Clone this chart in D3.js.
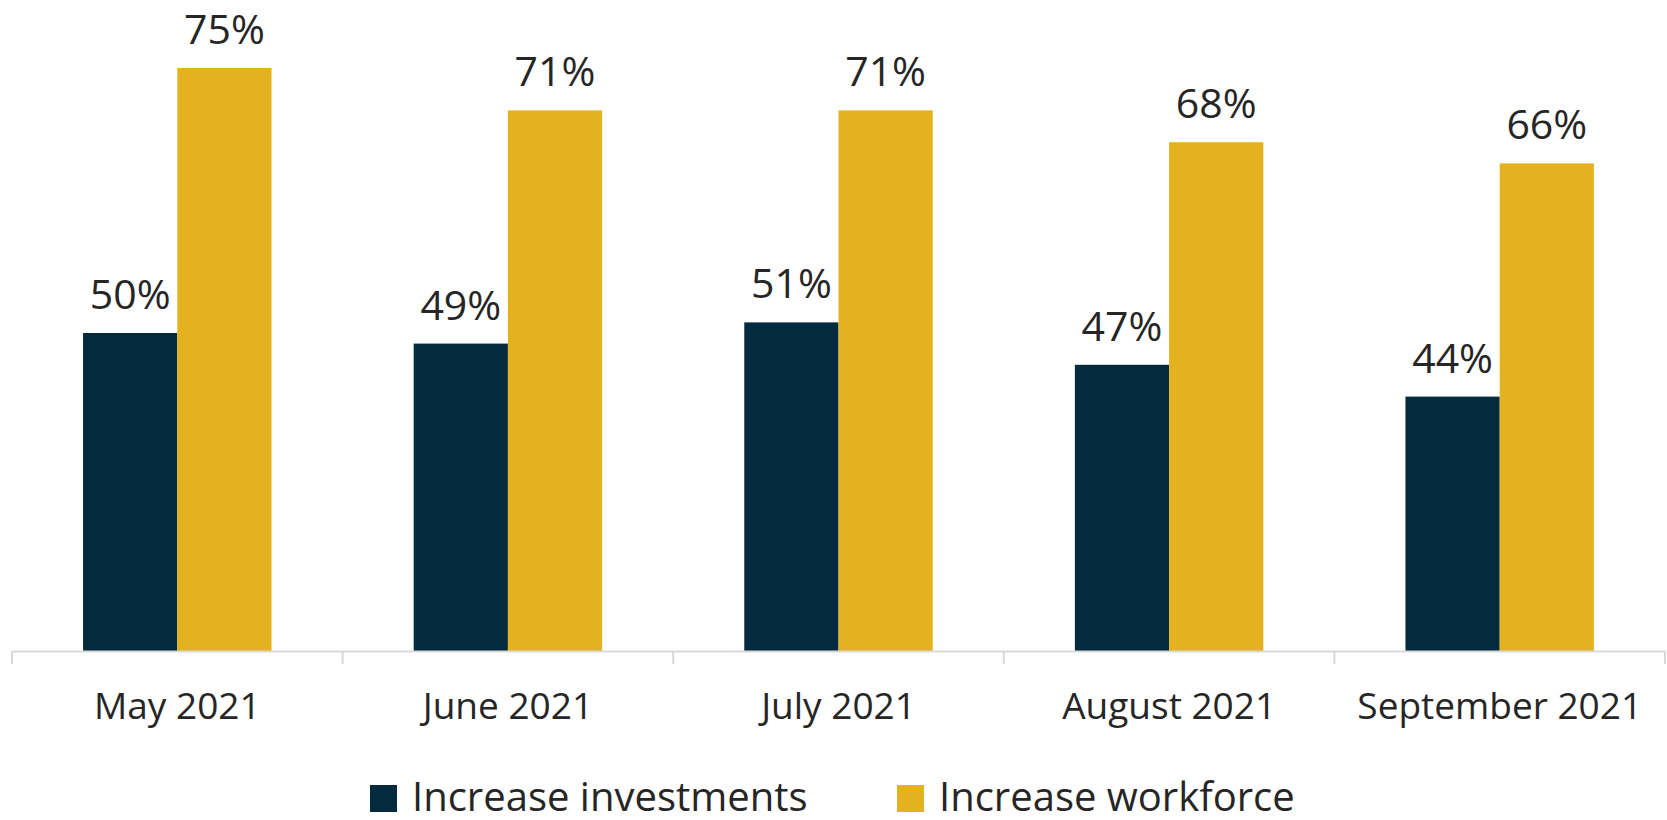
<!DOCTYPE html>
<html>
<head>
<meta charset="utf-8">
<script src="https://cdn.jsdelivr.net/npm/d3@7"></script>
<style>
  body { margin: 0; background: #fff; }
  text { font-family: "Open Sans", sans-serif; fill: #262626; }
</style>
</head>
<body>
<script>
var months = ["May 2021", "June 2021", "July 2021", "August 2021", "September 2021"];
var seriesNames = ["Increase investments", "Increase workforce"];
var investments = [50, 49, 51, 47, 44];
var workforce = [75, 71, 71, 68, 66];
var colors = ["#032a3e", "#e5b21f"];

var W = 1667, H = 820;
var svg = d3.select("body").append("svg")
  .attr("width", W)
  .attr("height", H);

// x0 for months, x1 for the two bars inside a month
var x0 = d3.scaleBand().domain(months).range([12, 1665]).padding(0);
var gap = x0.bandwidth() * 0.215;
var x1 = d3.scaleBand().domain(seriesNames).range([gap, x0.bandwidth() - gap]).padding(0);

// value axis does not start at zero in the original
var y = d3.scaleLinear().domain([20, 80]).range([651, 15]);

var rows = months.map(function(m, i) {
  return { month: m, values: [investments[i], workforce[i]] };
});

var groups = svg.selectAll("g.month")
  .data(rows)
  .enter().append("g")
  .attr("class", "month")
  .attr("transform", function(d) { return "translate(" + x0(d.month) + ",0)"; });

groups.selectAll("rect")
  .data(function(d) { return d.values.map(function(v, j) { return { name: seriesNames[j], v: v, j: j }; }); })
  .enter().append("rect")
  .attr("x", function(d) { return x1(d.name); })
  .attr("y", function(d) { return y(d.v); })
  .attr("width", x1.bandwidth())
  .attr("height", function(d) { return y(20) - y(d.v); })
  .attr("fill", function(d) { return colors[d.j]; });

groups.selectAll("text.val")
  .data(function(d) { return d.values.map(function(v, j) { return { name: seriesNames[j], v: v }; }); })
  .enter().append("text")
  .attr("class", "val")
  .attr("x", function(d) { return x1(d.name) + x1.bandwidth() / 2; })
  .attr("y", function(d) { return y(d.v) - 24; })
  .attr("text-anchor", "middle")
  .style("font-size", "41px")
  .text(function(d) { return d.v + "%"; });

// category axis
var axis = svg.append("g")
  .attr("transform", "translate(0," + y(20) + ")")
  .call(d3.axisBottom(x0).tickSize(0).tickPadding(0));
axis.select(".domain").attr("stroke", "#d9d9d9").attr("stroke-width", 2);
axis.selectAll(".tick text").remove();

// tick marks between categories
var edges = months.map(function(m) { return x0(m); }).concat([x0.range()[1]]);
svg.selectAll("line.sep")
  .data(edges)
  .enter().append("line")
  .attr("class", "sep")
  .attr("x1", function(d) { return d; })
  .attr("x2", function(d) { return d; })
  .attr("y1", y(20))
  .attr("y2", y(20) + 13)
  .attr("stroke", "#d9d9d9")
  .attr("stroke-width", 2);

svg.selectAll("text.cat")
  .data(months)
  .enter().append("text")
  .attr("class", "cat")
  .attr("x", function(d) { return x0(d) + x0.bandwidth() / 2; })
  .attr("y", 719)
  .attr("text-anchor", "middle")
  .style("font-size", "37px")
  .text(function(d) { return d; });

// legend
var legendX = [370, 897];
var legend = svg.selectAll("g.legend")
  .data(seriesNames)
  .enter().append("g")
  .attr("class", "legend")
  .attr("transform", function(d, i) { return "translate(" + legendX[i] + ",785)"; });

legend.append("rect")
  .attr("width", 27)
  .attr("height", 27)
  .attr("fill", function(d, i) { return colors[i]; });

legend.append("text")
  .attr("x", 42)
  .attr("y", 26)
  .style("font-size", "40px")
  .text(function(d) { return d; });
</script>
</body>
</html>
